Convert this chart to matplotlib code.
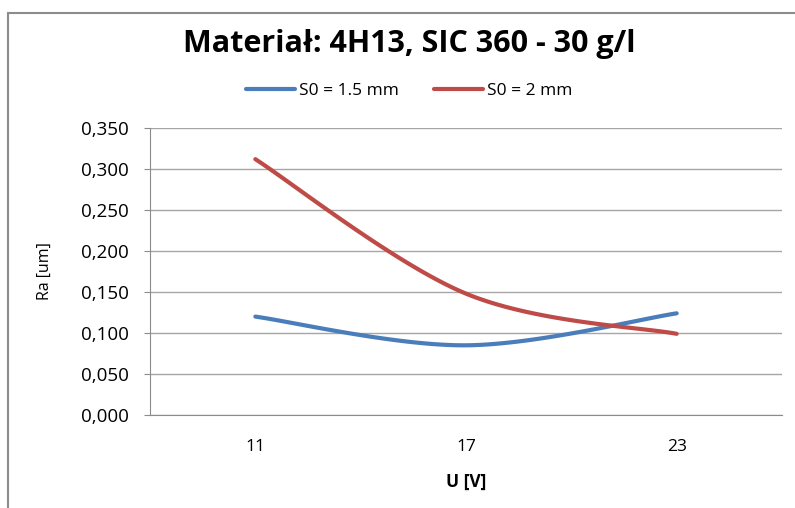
import numpy as np
import matplotlib.pyplot as plt
from matplotlib.patches import Rectangle

# data
categories = ['11', '17', '23']
s0_15 = [0.120, 0.085, 0.124]
s0_2 = [0.312, 0.148, 0.099]
yticks = [0.0, 0.05, 0.10, 0.15, 0.20, 0.25, 0.30, 0.35]


def smooth(xs, ys, n=60):
    """Excel-like smoothed line (Catmull-Rom style bezier segments)."""
    pts = np.column_stack([xs, ys]).astype(float)
    out = []
    for i in range(len(pts) - 1):
        p0 = pts[i - 1] if i > 0 else pts[i]
        p1 = pts[i]
        p2 = pts[i + 1]
        p3 = pts[i + 2] if i + 2 < len(pts) else pts[i + 1]
        c1 = p1 + (p2 - p0) / 6
        c2 = p2 - (p3 - p1) / 6
        t = np.linspace(0, 1, n)[:, None]
        seg = ((1 - t) ** 3) * p1 + 3 * ((1 - t) ** 2) * t * c1 + 3 * (1 - t) * t ** 2 * c2 + t ** 3 * p2
        out.append(seg if i == 0 else seg[1:])
    seg = np.vstack(out)
    return seg[:, 0], seg[:, 1]


plt.rcParams['font.family'] = ['Open Sans', 'DejaVu Sans']

fig = plt.figure(figsize=(7.95, 5.08), dpi=100)
# chart frame (cut off at the right and bottom like the screenshot)
fig.patches.append(Rectangle((8 / 795, -0.05), 1.0, 1 - 13 / 508 + 0.05, transform=fig.transFigure,
                             fill=False, edgecolor='#8c8c8c', linewidth=1.5))

ax = fig.add_axes([150 / 795, 1 - 415 / 508, 632 / 795, 287 / 508])
x = np.arange(len(categories))
bx, by = smooth(x, s0_15)
rx, ry = smooth(x, s0_2)
ax.plot(bx, by, color='#4a7ebb', linewidth=3, label='S0 = 1.5 mm', solid_capstyle='round')
ax.plot(rx, ry, color='#be4b48', linewidth=3, label='S0 = 2 mm', solid_capstyle='round')

ax.set_xlim(-0.5, 2.5)
ax.set_ylim(0, 0.35)
ax.set_xticks(x)
ax.set_xticklabels(categories)
ax.set_yticks(yticks)
ax.set_yticklabels([f'{v:.3f}'.replace('.', ',') for v in yticks])
ax.grid(axis='y', color='#a6a6a6', linewidth=1)
ax.set_axisbelow(True)
for side in ('top', 'right'):
    ax.spines[side].set_visible(False)
ax.spines['left'].set_color('#8c8c8c')
ax.spines['bottom'].set_color('#8c8c8c')
ax.tick_params(axis='y', length=4, color='#8c8c8c', labelsize=13.5, pad=11)
ax.tick_params(axis='x', length=0, labelsize=12.5, pad=17)

ax.set_ylabel('Ra [um]', fontsize=11.5)
ax.yaxis.set_label_coords(-97 / 632, 0.5)
ax.set_xlabel('U [V]', fontsize=12.5, fontweight='bold')
ax.xaxis.set_label_coords(0.5, -58 / 287)

fig.text(0.515, 1 - 44 / 508, 'Materiał: 4H13, SIC 360 - 30 g/l', ha='center', va='center',
         fontsize=22, fontweight='bold')
fig.legend(loc='center', bbox_to_anchor=(0.515, 1 - 91 / 508), ncol=2, frameon=False,
           fontsize=12.5, handlelength=2.8, columnspacing=2.0, handletextpad=0.25)

plt.savefig('out.png', dpi=100)
